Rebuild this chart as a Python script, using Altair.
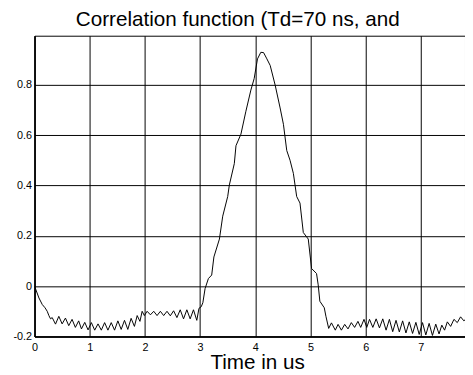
import altair as alt
import pandas as pd

# Time (us) and correlation values
time_us = [
    0.00, 0.08, 0.14, 0.19, 0.23, 0.26, 0.29, 0.32, 0.38, 0.44, 0.50, 0.56, 0.62, 0.68,
    0.74, 0.80, 0.85, 0.91, 0.97, 1.03, 1.09, 1.15, 1.21, 1.27, 1.33, 1.39, 1.45, 1.51,
    1.57, 1.63, 1.69, 1.75, 1.81, 1.86, 1.91, 1.95, 1.99, 2.04, 2.10, 2.16, 2.22, 2.28,
    2.34, 2.40, 2.46, 2.52, 2.58, 2.64, 2.70, 2.76, 2.82, 2.88, 2.94, 2.98, 3.02, 3.05,
    3.09, 3.15, 3.21, 3.25, 3.35, 3.41, 3.50, 3.53, 3.62, 3.65, 3.74, 3.83, 3.92, 3.98,
    4.04, 4.10, 4.15, 4.21, 4.27, 4.36, 4.45, 4.51, 4.57, 4.63, 4.69, 4.75, 4.81, 4.87,
    4.96, 5.02, 5.11, 5.14, 5.17, 5.25, 5.28, 5.33, 5.38, 5.45, 5.50, 5.56, 5.62, 5.68,
    5.74, 5.80, 5.86, 5.91, 5.97, 6.02, 6.07, 6.13, 6.19, 6.25, 6.31, 6.37, 6.43, 6.49,
    6.55, 6.61, 6.67, 6.73, 6.79, 6.85, 6.91, 6.97, 7.03, 7.09, 7.15, 7.21, 7.27, 7.33,
    7.38, 7.43, 7.48, 7.54, 7.60, 7.66, 7.72, 7.78, 7.84,
]
correlation = [
    0.000, -0.047, -0.073, -0.086, -0.100, -0.117, -0.130, -0.125, -0.151, -0.120, -0.150, -0.127, -0.157, -0.132,
    -0.164, -0.138, -0.170, -0.144, -0.174, -0.145, -0.175, -0.150, -0.175, -0.145, -0.175, -0.145, -0.175, -0.138,
    -0.172, -0.136, -0.172, -0.128, -0.160, -0.117, -0.140, -0.100, -0.117, -0.100, -0.114, -0.100, -0.117, -0.100,
    -0.117, -0.100, -0.118, -0.098, -0.125, -0.094, -0.130, -0.094, -0.130, -0.094, -0.136, -0.088, -0.082, -0.066,
    -0.010, 0.030, 0.044, 0.116, 0.187, 0.278, 0.356, 0.402, 0.487, 0.558, 0.604, 0.695, 0.779, 0.825,
    0.903, 0.929, 0.928, 0.903, 0.877, 0.799, 0.708, 0.643, 0.539, 0.500, 0.448, 0.356, 0.330, 0.213,
    0.187, 0.070, 0.050, 0.005, -0.060, -0.086, -0.120, -0.168, -0.146, -0.175, -0.152, -0.175, -0.152, -0.170,
    -0.145, -0.164, -0.140, -0.164, -0.132, -0.164, -0.132, -0.164, -0.130, -0.166, -0.130, -0.175, -0.132, -0.181,
    -0.136, -0.182, -0.138, -0.186, -0.142, -0.188, -0.144, -0.192, -0.145, -0.194, -0.148, -0.196, -0.151, -0.190,
    -0.155, -0.175, -0.142, -0.160, -0.132, -0.145, -0.122, -0.138, -0.125,
]

x_ticks = [0, 1, 2, 3, 4, 5, 6, 7]
y_ticks = [-0.2, 0, 0.2, 0.4, 0.6, 0.8]
title_text = ["Correlation function (Td=70 ns, and"]
x_title = "Time in us"

df = pd.DataFrame({"t": time_us, "c": correlation})
title_df = pd.DataFrame({"label": title_text})

FONT = "Liberation Sans"

line = (
    alt.Chart(df)
    .mark_line(color="black", strokeWidth=1, clip=True)
    .encode(
        x=alt.X(
            "t:Q",
            scale=alt.Scale(domain=[0, 7.8], nice=False, zero=False),
            axis=alt.Axis(
                values=x_ticks,
                title=x_title,
                titleFont=FONT,
                titleFontSize=21,
                titleFontWeight="normal",
                titleColor="black",
                titleX=226.5,
                titleY=33,
                titleAlign="center",
                titleBaseline="alphabetic",
                labelFont=FONT,
                labelFontSize=11,
                labelColor="black",
                labelPadding=5,
                ticks=False,
                grid=True,
                gridColor="black",
                gridOpacity=1,
                gridWidth=1,
                domainColor="black",
                domainWidth=1.5,
                labelFlush=False,
            ),
        ),
        y=alt.Y(
            "c:Q",
            scale=alt.Scale(domain=[-0.2, 0.995], nice=False, zero=False),
            axis=alt.Axis(
                values=y_ticks,
                title=None,
                labelExpr="toString(datum.value)",
                labelFont=FONT,
                labelFontSize=11,
                labelColor="black",
                labelPadding=3,
                ticks=False,
                grid=True,
                gridColor="black",
                gridOpacity=1,
                gridWidth=1,
                domainColor="black",
                domainWidth=1.5,
                labelFlush=False,
            ),
        ),
    )
)

title = (
    alt.Chart(title_df)
    .mark_text(
        font=FONT,
        fontSize=21,
        color="black",
        align="left",
        baseline="alphabetic",
    )
    .encode(text="label:N", x=alt.value(42), y=alt.value(-9.5))
)

chart = (
    alt.layer(line, title)
    .properties(
        width=438,
        height=306,
        autosize=alt.AutoSizeParams(type="none"),
        padding={"left": 27, "top": 25, "right": 0, "bottom": 36},
        background="white",
    )
    .configure_view(stroke="black", strokeWidth=1)
)

chart.save("out.html", embed_options={"renderer": "svg", "actions": False})
